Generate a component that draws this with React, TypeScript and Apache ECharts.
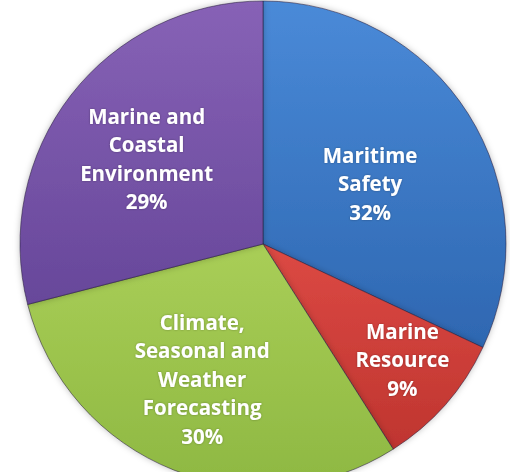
import React, { useEffect, useRef } from "react";
import * as echarts from "echarts";

const categories: string[] = [
  "Maritime\nSafety",
  "Marine\nResource",
  "Climate,\nSeasonal and\nWeather\nForecasting",
  "Marine and\nCoastal\nEnvironment",
];
const values: number[] = [32, 9, 30, 29];

const topColors = ["#4a8ad8", "#dc4944", "#a9ce57", "#8762b6"];
const bottomColors = ["#2e67b1", "#bf352f", "#8eb842", "#67479a"];
const labelShift: [number, number][] = [
  [2, 6],
  [46, 33],
  [-15, 19],
  [-18, -9],
];

export default function App() {
  const ref = useRef<HTMLDivElement>(null);
  useEffect(() => {
    document.body.style.margin = "0";
    const chart = echarts.init(ref.current!, undefined, { renderer: "svg" });
    const data = categories.map((name, i) => ({
      name,
      value: values[i],
      itemStyle: {
        color: new echarts.graphic.LinearGradient(0, 0, 0, 1, [
          { offset: 0, color: topColors[i] },
          { offset: 1, color: bottomColors[i] },
        ]),
      },
    }));
    chart.setOption({
      animation: false,
      backgroundColor: "#ffffff",
      series: [
        {
          type: "pie",
          center: [263, 244],
          radius: 243,
          startAngle: 90,
          clockwise: true,
          data,
          itemStyle: {
            borderColor: "rgba(40,30,60,0.55)",
            borderWidth: 1,
            shadowBlur: 6,
            shadowColor: "rgba(0,0,0,0.25)",
          },
          label: {
            position: "inside",
            color: "#ffffff",
            fontFamily: "Open Sans",
            fontWeight: "bold",
            fontSize: 20.5,
            lineHeight: 28.5,
            align: "center",
            textShadowColor: "rgba(0,0,0,0.3)",
            textShadowBlur: 2,
            formatter: (p: any) => `${p.name}\n${Math.round(p.percent)}%`,
          },
          labelLine: { show: false },
          labelLayout: (p: any) => ({
            dx: labelShift[p.dataIndex][0],
            dy: labelShift[p.dataIndex][1],
          }),
          emphasis: { disabled: true },
        },
      ],
    });
    return () => chart.dispose();
  }, []);
  return <div ref={ref} style={{ width: 510, height: 472 }} />;
}
